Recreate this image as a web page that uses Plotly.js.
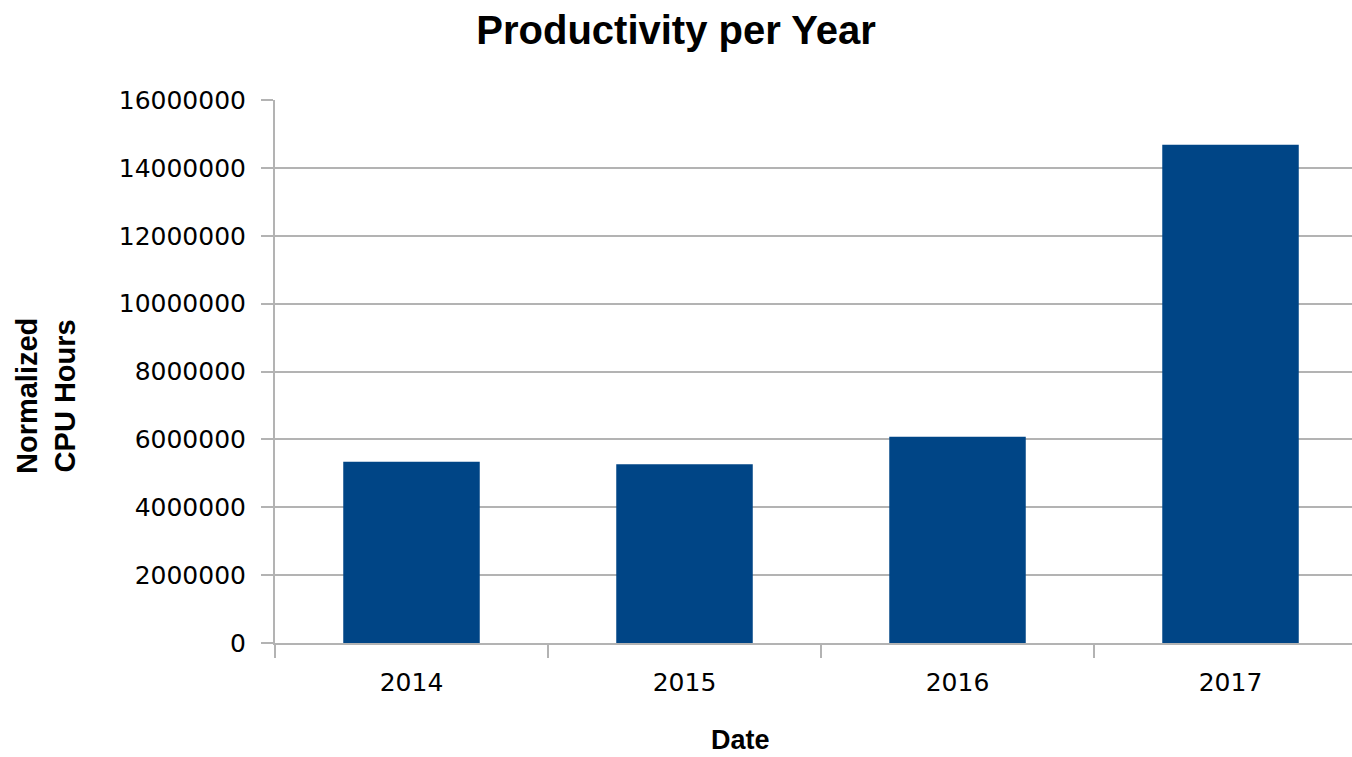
<!DOCTYPE html>
<html>
<head>
<meta charset="utf-8">
<script src="https://cdn.plot.ly/plotly-3.0.1.min.js"></script>
<style>html,body{margin:0;padding:0;background:#fff;overflow:hidden;}#chart{width:1352px;height:757px;}</style>
</head>
<body>
<div id="chart"></div>
<script>
const years = ['2014', '2015', '2016', '2017'];
const cpuHours = [5340000, 5270000, 6080000, 14680000];
const chartTitle = 'Productivity per Year';
const xTitle = 'Date';
const yTitle = 'Normalized<br>CPU Hours';

const trace = {
  type: 'bar',
  x: years,
  y: cpuHours,
  marker: {color: '#004586', line: {width: 0}},
  hoverinfo: 'x+y'
};

const layout = {
  width: 1352,
  height: 757,
  paper_bgcolor: '#ffffff',
  plot_bgcolor: '#ffffff',
  margin: {l: 275, r: 0, t: 100, b: 114},
  bargap: 0.5,
  showlegend: false,
  title: {
    text: chartTitle,
    font: {family: 'Liberation Sans, Arial, sans-serif', size: 40, color: '#000000', weight: 'bold'},
    xref: 'container', x: 0.5, xanchor: 'center',
    yref: 'container', y: 1 - 30/757, yanchor: 'middle'
  },
  xaxis: {
    type: 'category',
    range: [-0.5, 3.445],
    showgrid: false,
    showline: true,
    linecolor: '#b3b3b3',
    linewidth: 2,
    ticks: 'outside',
    tickson: 'boundaries',
    ticklen: 13,
    tickcolor: '#b3b3b3',
    tickwidth: 2,
    ticklabelstandoff: 16,
    tickfont: {family: 'DejaVu Sans, sans-serif', size: 25, color: '#000000'},
    fixedrange: true
  },
  yaxis: {
    range: [0, 16000000],
    dtick: 2000000,
    tick0: 0,
    tickformat: 'd',
    showgrid: true,
    gridcolor: '#b3b3b3',
    gridwidth: 2,
    zeroline: false,
    showline: true,
    linecolor: '#b3b3b3',
    linewidth: 2,
    ticks: 'outside',
    ticklen: 12,
    tickcolor: '#b3b3b3',
    tickwidth: 2,
    ticklabelstandoff: 10,
    tickfont: {family: 'DejaVu Sans, sans-serif', size: 25, color: '#000000'},
    fixedrange: true
  },
  annotations: [
    {
      text: xTitle,
      xref: 'paper', yref: 'paper',
      x: (740 - 275) / 1077, y: (643 - 740) / 543,
      xanchor: 'center', yanchor: 'middle',
      showarrow: false,
      borderpad: 0,
      font: {family: 'Liberation Sans, Arial, sans-serif', size: 27, color: '#000000', weight: 'bold'}
    },
    {
      text: yTitle,
      xref: 'paper', yref: 'paper',
      x: (46 - 275) / 1077, y: (643 - 396) / 543,
      xanchor: 'center', yanchor: 'middle',
      textangle: -90,
      showarrow: false,
      font: {family: 'Liberation Sans, Arial, sans-serif', size: 29, color: '#000000', weight: 'bold'}
    }
  ]
};

Plotly.newPlot('chart', [trace], layout, {displayModeBar: false, staticPlot: true});
</script>
</body>
</html>
